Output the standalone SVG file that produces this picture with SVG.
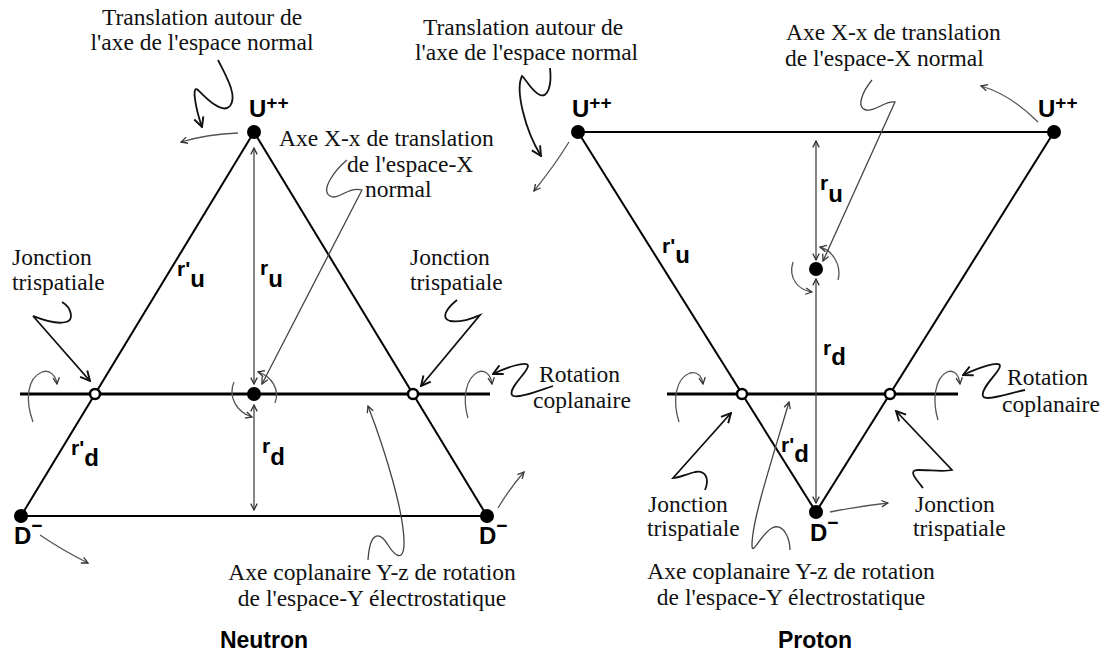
<svg xmlns="http://www.w3.org/2000/svg" width="1104" height="657" viewBox="0 0 1104 657">
<defs>
<style>
.bg{fill:#fff}
.edge{stroke:#000;stroke-width:2;fill:none}
.axis{stroke:#000;stroke-width:3;fill:none}
.dim{stroke:#444;stroke-width:1.3;fill:none}
.rot{stroke:#555;stroke-width:1.3;fill:none}
.call{stroke:#111;stroke-width:1.8;fill:none}
.dot{fill:#000}
.junc{fill:#fff;stroke:#000;stroke-width:2.5}
.lbl{font-family:"Liberation Serif","Times New Roman",serif;font-size:23.5px;fill:#111}
.q{font-family:"Liberation Sans",Arial,sans-serif;font-weight:bold;font-size:24px;fill:#000}
.sup{font-size:19px}
.r{font-family:"Liberation Sans",Arial,sans-serif;font-weight:bold;font-size:21px;fill:#000}
.sub{font-size:24px}
.title{font-family:"Liberation Sans",Arial,sans-serif;font-weight:bold;font-size:23px;fill:#000;text-anchor:middle}
.mid{text-anchor:middle}
</style>
<marker id="ah" viewBox="0 0 10 10" refX="9" refY="5" markerWidth="8" markerHeight="8" orient="auto-start-reverse" markerUnits="userSpaceOnUse">
<path d="M1,1 L9,5 L1,9" fill="none" stroke="#333" stroke-width="1.6"/>
</marker>
<marker id="ahc" viewBox="0 0 10 10" refX="9" refY="5" markerWidth="12" markerHeight="12" orient="auto" markerUnits="userSpaceOnUse">
<path d="M1,1 L9,5 L1,9" fill="none" stroke="#111" stroke-width="1.6"/>
</marker>
</defs>
<rect class="bg" x="0" y="0" width="1104" height="657"/>

<g id="connectors">
<!-- neutron structure -->
<line class="edge" x1="254" y1="132" x2="21" y2="516"/>
<line class="edge" x1="254" y1="132" x2="487" y2="516"/>
<line class="edge" x1="21" y1="516" x2="487" y2="516"/>
<line class="axis" x1="20" y1="394" x2="490" y2="394"/>
<line class="dim" x1="254" y1="148" x2="254" y2="384" marker-start="url(#ah)" marker-end="url(#ah)"/>
<line class="dim" x1="254" y1="405" x2="254" y2="510" marker-start="url(#ah)" marker-end="url(#ah)"/>
<!-- neutron rotation arrows -->
<path class="rot" d="M238,133 Q208,134 181,142" marker-end="url(#ah)"/>
<path class="rot" d="M33,422 C25,400 27,378 42,372 C50,369 56,376 57,384" marker-end="url(#ah)"/>
<path class="rot" d="M468,418 C462,398 466,378 478,372 C486,369 491,376 492,384" marker-end="url(#ah)"/>
<path class="rot" d="M234,382 C228,396 236,412 252,417" marker-end="url(#ah)"/>
<path class="rot" d="M275,403 C280,390 272,376 258,372" marker-end="url(#ah)"/>
<path class="rot" d="M40,535 Q62,550 88,563" marker-end="url(#ah)"/>
<path class="rot" d="M498,508 Q510,488 524,472" marker-end="url(#ah)"/>
<!-- neutron callouts -->
<path class="call" d="M218,60 C226,76 238,96 230,106 C222,115 205,97 198,90 C191,84 196,110 202,127" marker-end="url(#ahc)"/>
<path class="call" d="M62,302 C72,308 74,320 66,322 C55,325 38,318 33,316 L90,381" marker-end="url(#ahc)"/>
<path class="call" d="M457,300 C447,308 440,318 450,321 C462,323 472,318 480,315 L421,386" marker-end="url(#ahc)"/>
<path class="dim" d="M347,160 C335,170 320,190 330,196 C338,201 348,186 362,190 L262,384" marker-end="url(#ah)"/>
<path class="call" d="M553,386 C540,390 515,400 512,395 C508,388 528,372 528,366 C528,360 505,368 493,374" marker-end="url(#ahc)"/>
<path class="dim" d="M368,560 C370,530 380,532 388,545 C395,556 403,562 404,545 C405,515 385,450 368,406" marker-end="url(#ah)"/>

<!-- proton structure -->
<line class="edge" x1="578" y1="132" x2="1054" y2="132"/>
<line class="edge" x1="578" y1="132" x2="816" y2="512"/>
<line class="edge" x1="1054" y1="132" x2="816" y2="512"/>
<line class="axis" x1="667" y1="394" x2="958" y2="394"/>
<line class="dim" x1="816" y1="141" x2="816" y2="260" marker-start="url(#ah)" marker-end="url(#ah)"/>
<line class="dim" x1="816" y1="279" x2="816" y2="503" marker-start="url(#ah)" marker-end="url(#ah)"/>
<!-- proton rotation arrows -->
<path class="rot" d="M569,142 C558,160 546,176 534,191" marker-end="url(#ah)"/>
<path class="rot" d="M1038,122 C1022,106 1002,92 981,86" marker-end="url(#ah)"/>
<path class="rot" d="M793,262 C788,278 798,290 812,292" marker-end="url(#ah)"/>
<path class="rot" d="M838,280 C842,265 832,250 820,247" marker-end="url(#ah)"/>
<path class="rot" d="M679,422 C672,400 676,378 690,373 C698,371 702,377 703,384" marker-end="url(#ah)"/>
<path class="rot" d="M938,420 C932,400 935,378 947,372 C955,369 959,376 960,384" marker-end="url(#ah)"/>
<path class="rot" d="M830,512 Q860,506 888,503" marker-end="url(#ah)"/>
<!-- proton callouts -->
<path class="call" d="M550,68 C552,85 548,98 540,95 C532,92 525,78 522,76 C515,90 525,130 541,156" marker-end="url(#ahc)"/>
<path class="dim" d="M872,80 C862,92 856,108 866,110 C876,112 885,100 895,102 L823,261" marker-end="url(#ah)"/>
<path class="call" d="M1025,390 C1010,393 985,402 983,396 C980,388 1000,372 1000,366 C1000,360 978,368 963,375" marker-end="url(#ahc)"/>
<path class="call" d="M705,490 C710,478 705,470 695,472 C687,474 678,478 673,478 L731,413" marker-end="url(#ahc)"/>
<path class="call" d="M923,488 C915,478 908,470 918,470 C930,470 945,472 952,470 L896,411" marker-end="url(#ahc)"/>
<path class="dim" d="M790,550 C790,540 784,522 772,528 C760,535 752,557 752,545 C752,520 772,460 789,402" marker-end="url(#ah)"/>
</g>

<!-- neutron nodes -->
<g id="n-u">
<circle class="dot" cx="254" cy="132" r="7"/>
<text class="q" x="249" y="117">U<tspan class="sup" dy="-8">++</tspan></text>
</g>
<g id="n-d-left">
<circle class="dot" cx="21" cy="516" r="7"/>
<text class="q" x="14" y="544">D<tspan class="sup" dy="-12">−</tspan></text>
</g>
<g id="n-d-right">
<circle class="dot" cx="487" cy="516" r="7"/>
<text class="q" x="479" y="544">D<tspan class="sup" dy="-12">−</tspan></text>
</g>
<g id="n-center">
<circle class="dot" cx="254" cy="394" r="7"/>
</g>
<g id="n-junction-left"><circle class="junc" cx="95" cy="394" r="5"/></g>
<g id="n-junction-right"><circle class="junc" cx="413" cy="394" r="5"/></g>
<g id="n-labels">
<text class="r" x="177" y="276">r'<tspan class="sub" dy="11">u</tspan></text>
<text class="r" x="260" y="275">r<tspan class="sub" dy="12">u</tspan></text>
<text class="r" x="71" y="455">r'<tspan class="sub" dy="11">d</tspan></text>
<text class="r" x="262" y="453">r<tspan class="sub" dy="12">d</tspan></text>
<text class="lbl mid" x="202" y="25">Translation autour de</text>
<text class="lbl mid" x="202" y="50">l'axe de l'espace normal</text>
<text class="lbl" x="279" y="146">Axe X-x de translation</text>
<text class="lbl" x="347" y="172">de l'espace-X</text>
<text class="lbl" x="365" y="197">normal</text>
<text class="lbl" x="12" y="265">Jonction</text>
<text class="lbl" x="12" y="290">trispatiale</text>
<text class="lbl" x="410" y="265">Jonction</text>
<text class="lbl" x="410" y="290">trispatiale</text>
<text class="lbl" x="539" y="382">Rotation</text>
<text class="lbl" x="533" y="408">coplanaire</text>
<text class="lbl mid" x="372" y="580">Axe coplanaire Y-z de rotation</text>
<text class="lbl mid" x="372" y="606">de l'espace-Y électrostatique</text>
<text class="title" x="264" y="648">Neutron</text>
</g>

<!-- proton nodes -->
<g id="p-u-left">
<circle class="dot" cx="578" cy="132" r="7"/>
<text class="q" x="572" y="117">U<tspan class="sup" dy="-8">++</tspan></text>
</g>
<g id="p-u-right">
<circle class="dot" cx="1054" cy="132" r="7"/>
<text class="q" x="1038" y="117">U<tspan class="sup" dy="-8">++</tspan></text>
</g>
<g id="p-center"><circle class="dot" cx="816" cy="269" r="7"/></g>
<g id="p-d">
<circle class="dot" cx="816" cy="512" r="7"/>
<text class="q" x="810" y="541">D<tspan class="sup" dy="-12">−</tspan></text>
</g>
<g id="p-junction-left"><circle class="junc" cx="742" cy="394" r="5"/></g>
<g id="p-junction-right"><circle class="junc" cx="890" cy="394" r="5"/></g>
<g id="p-labels">
<text class="r" x="662" y="253">r'<tspan class="sub" dy="10">u</tspan></text>
<text class="r" x="820" y="190">r<tspan class="sub" dy="12">u</tspan></text>
<text class="r" x="823" y="355">r<tspan class="sub" dy="10">d</tspan></text>
<text class="r" x="781" y="452">r'<tspan class="sub" dy="10">d</tspan></text>
<text class="lbl" x="423" y="35">Translation autour de</text>
<text class="lbl" x="415" y="60">l'axe de l'espace normal</text>
<text class="lbl" x="786" y="40">Axe X-x de translation</text>
<text class="lbl" x="785" y="66">de l'espace-X normal</text>
<text class="lbl" x="1007" y="385">Rotation</text>
<text class="lbl" x="1002" y="412">coplanaire</text>
<text class="lbl" x="648" y="512">Jonction</text>
<text class="lbl" x="647" y="536">trispatiale</text>
<text class="lbl" x="915" y="512">Jonction</text>
<text class="lbl" x="913" y="536">trispatiale</text>
<text class="lbl mid" x="791" y="579">Axe coplanaire Y-z de rotation</text>
<text class="lbl mid" x="791" y="605">de l'espace-Y électrostatique</text>
<text class="title" x="815" y="648">Proton</text>
</g>
</svg>
